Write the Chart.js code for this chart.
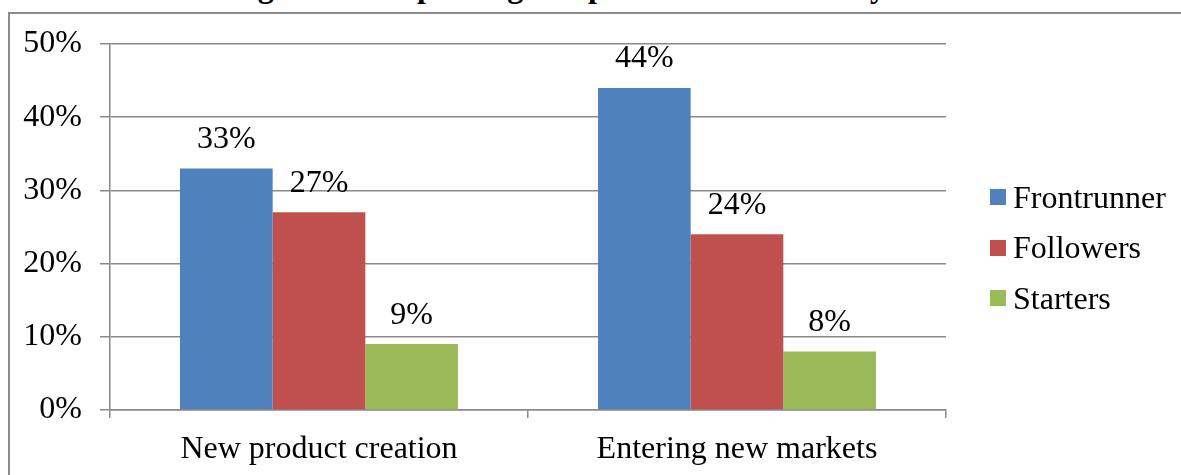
<!DOCTYPE html>
<html>
<head>
<meta charset="utf-8">
<script src="https://cdn.jsdelivr.net/npm/chart.js@4/dist/chart.umd.min.js"></script>
<style>
  html, body { margin: 0; padding: 0; background: #fff; overflow: hidden; }
  #wrap { position: relative; width: 1181px; height: 475px; overflow: hidden; }
  #frame {
    position: absolute; left: 8px; top: 12px; right: -4px; bottom: -4px;
    border-left: 2px solid #8c8c8c; border-top: 2px solid #8c8c8c;
  }
  #title {
    position: absolute; left: 0; width: 1270px; top: -32px; text-align: center;
    font: bold 32px "Liberation Serif", "Times New Roman", serif; color: #000;
    white-space: nowrap;
  }
  #chartBox { position: absolute; left: 0; top: 0; width: 1181px; height: 475px; }
  #legend {
    position: absolute; left: 990px; top: 172px;
    font: 32px "Liberation Serif", "Times New Roman", serif; color: #000;
  }
  #legend .item { height: 50.5px; display: flex; align-items: center; white-space: nowrap; }
  #legend .box { width: 16px; height: 16px; margin-right: 7px; }
</style>
</head>
<body>
<div id="wrap">
  <div id="title">Figure 10: Improving competitiveness results by ERP starts</div>
  <div id="frame"></div>
  <div id="chartBox"><canvas id="myChart"></canvas></div>
  <div id="legend"></div>
</div>
<script>
const categories = ['New product creation', 'Entering new markets'];
const seriesNames = ['Frontrunner', 'Followers', 'Starters'];
const seriesColors = ['#4F81BD', '#C0504D', '#9BBB59'];
const frontrunner = [33, 44];
const followers = [27, 24];
const starters = [9, 8];
const yTicks = [0, 10, 20, 30, 40, 50];

const serif = '"Liberation Serif", "Times New Roman", serif';
const gridGray = '#8a8a8a';

// writes the value above each bar
const valueLabels = {
  id: 'valueLabels',
  afterDatasetsDraw(chart) {
    const c = chart.ctx;
    c.save();
    c.font = '32px ' + serif;
    c.fillStyle = '#000';
    c.textAlign = 'center';
    c.textBaseline = 'middle';
    chart.data.datasets.forEach((ds, i) => {
      chart.getDatasetMeta(i).data.forEach((bar, j) => {
        c.fillText(ds.data[j] + '%', bar.x, bar.y - 29);
      });
    });
    c.restore();
  },
};

const ctx = document.getElementById('myChart');
const myChart = new Chart(ctx, {
  type: 'bar',
  data: {
    labels: categories,
    datasets: [
      { label: seriesNames[0], data: frontrunner, backgroundColor: seriesColors[0] },
      { label: seriesNames[1], data: followers, backgroundColor: seriesColors[1] },
      { label: seriesNames[2], data: starters, backgroundColor: seriesColors[2] },
    ],
  },
  options: {
    responsive: true,
    maintainAspectRatio: false,
    animation: false,
    layout: {
      padding: { top: 44, right: 235, bottom: 0, left: 0 },
    },
    datasets: {
      bar: {
        categoryPercentage: 0.665,
        barPercentage: 1,
        borderWidth: 0,
      },
    },
    scales: {
      x: {
        grid: {
          offset: true,
          drawOnChartArea: false,
          drawTicks: true,
          tickLength: 8,
          color: gridGray,
          lineWidth: 1.5,
        },
        border: { color: gridGray, width: 1.5 },
        ticks: {
          color: '#000',
          font: { family: serif, size: 32 },
          padding: 12,
        },
        afterFit(scale) {
          scale.height = 65;
        },
      },
      y: {
        min: 0,
        max: 50,
        afterBuildTicks(scale) {
          scale.ticks = yTicks.map((v) => ({ value: v }));
        },
        grid: {
          color: gridGray,
          lineWidth: 1.5,
          tickLength: 10,
        },
        border: { color: gridGray, width: 1.5 },
        ticks: {
          color: '#000',
          font: { family: serif, size: 32 },
          padding: 18,
          callback: (v) => v + '%',
        },
        afterFit(scale) {
          scale.width = 110;
        },
      },
    },
    plugins: {
      legend: { display: false },
      tooltip: { enabled: false },
    },
  },
  plugins: [valueLabels],
});

// legend on the right, built from the dataset names and colours
const legendEl = document.getElementById('legend');
myChart.data.datasets.forEach((ds) => {
  const item = document.createElement('div');
  item.className = 'item';
  const box = document.createElement('span');
  box.className = 'box';
  box.style.background = ds.backgroundColor;
  item.appendChild(box);
  item.appendChild(document.createTextNode(ds.label));
  legendEl.appendChild(item);
});
</script>
</body>
</html>
